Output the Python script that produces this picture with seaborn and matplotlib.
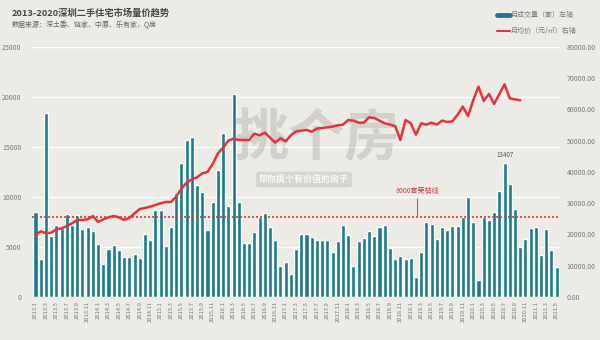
import numpy as np
import pandas as pd
import matplotlib
matplotlib.use("Agg")
import matplotlib.pyplot as plt
from matplotlib.lines import Line2D
import seaborn as sns

# Monthly Shenzhen second-hand housing data, 2013.1 - 2021.5
years = list(range(2013, 2022))
months = [f"{y}.{m}" for y in years for m in range(1, 13)][:101]

volume = [
    8500, 3830, 18370, 6100, 7200, 6870, 8300, 7200, 8230, 6770, 7030, 6570,
    5300, 3300, 4830, 5200, 4700, 4030, 4030, 4270, 3900, 6270, 5700, 8700,
    8700, 5100, 7030, 10430, 13370, 15700, 16030, 11200, 10530, 6700, 9530, 12700,
    16430, 9100, 20300, 9500, 5370, 5430, 6500, 8030, 8430, 7030, 5700, 3130,
    3500, 2270, 4800, 6300, 6300, 6030, 5730, 5700, 5700, 4470, 5600, 7200,
    6230, 3100, 5600, 5870, 6630, 6100, 6970, 7170, 4930, 3770, 4130, 3800,
    3870, 2000, 4530, 7530, 7330, 5770, 7030, 6670, 7130, 7130, 8030, 9970,
    7500, 1670, 8030, 7670, 8530, 10600, 13407, 11300, 8830, 5030, 5830, 6900,
    6970, 4170, 6770, 4700, 3000,
]

price = [
    19840, 21000, 20370, 20590, 21650, 21970, 22720, 23570, 24640, 24640, 24850, 25920,
    24000, 24850, 25490, 25920, 25490, 24640, 25280, 26770, 28160, 28480, 28900, 29440,
    29970, 30400, 30400, 32100, 34670, 36590, 37650, 38300, 39570, 40000, 42560, 45970,
    47790, 50030, 50670, 50240, 50240, 50240, 52270, 51730, 52590, 50990, 49390, 50780,
    49820, 51730, 53000, 53230, 53440, 52900, 53870, 54080, 54300, 54510, 54930, 55150,
    56640, 56430, 55790, 55790, 57490, 57280, 56430, 55580, 55150, 54720, 50240, 56640,
    55580, 51950, 55580, 55150, 55790, 55150, 56430, 56000, 56210, 58350, 60910, 57920,
    63040, 67300, 62720, 64960, 61760, 64960, 68050, 63570, 63250, 62930,
]

left_ticks = [0, 5000, 10000, 15000, 20000, 25000]
right_ticks = list(range(0, 80001, 10000))
threshold = 8000

bg = "#ECEBE5"
teal = "#1B7A8C"
red = "#E5333D"
grey_txt = "#7A7A7A"

sns.set_theme(style="white")
plt.rcParams["font.family"] = ["Noto Sans CJK SC", "DejaVu Sans"]

vol_df = pd.DataFrame({"month": months, "volume": volume})
price_df = pd.DataFrame({"idx": np.arange(len(price)), "price": price})

fig = plt.figure(figsize=(6, 3.4), dpi=100, facecolor=bg)
ax = fig.add_axes([0.054, 0.1265, 0.879, 0.7353])
ax.set_facecolor(bg)

sns.barplot(data=vol_df, x="month", y="volume", color=teal, saturation=1,
            width=0.78, ax=ax, zorder=2)
ax.set_ylim(0, 25000)
ax.set_xlim(-0.6, len(months) - 0.4)
ax.set_yticks(left_ticks)
ax.set_yticklabels([str(t) for t in left_ticks], fontsize=5, color=grey_txt)
ax.set_xticks(range(0, len(months), 2))
ax.set_xticklabels(months[::2], rotation=90, fontsize=4.2, color=grey_txt)
ax.tick_params(axis="both", length=0, pad=3)
ax.tick_params(axis="y", pad=8)
ax.grid(axis="y", color="white", linewidth=1, zorder=0)
ax.set_axisbelow(True)
ax.set_xlabel("")
ax.set_ylabel("")
for s in ax.spines.values():
    s.set_visible(False)

# 8000-unit boom/bust threshold
ax.axhline(threshold, color="#D23A3F", linestyle=(0, (1.2, 1.2)), linewidth=1.2, zorder=3)
ax.annotate("8000套荣枯线", xy=(73.3, threshold), xytext=(73.3, 10650),
            ha="center", va="center", fontsize=5, color="#C8403F",
            arrowprops=dict(arrowstyle="-", color="#C8403F", lw=0.7,
                            shrinkA=1, shrinkB=0), zorder=4)

# peak label
peak_i = volume.index(13407)
ax.text(peak_i, 13407 + 400, "13407", ha="center", va="bottom",
        fontsize=4.5, color="#555555", zorder=4)

# watermark
ax.text(0.54, 0.63, "挑个房", transform=ax.transAxes, ha="center", va="center",
        fontsize=40, fontweight="bold", style="italic", color="#A9A9A6",
        alpha=0.4, zorder=5)
ax.text(0.515, 0.47, "帮你挑个有价值的房子", transform=ax.transAxes,
        ha="center", va="center", fontsize=6.5, fontweight="bold", color="white",
        alpha=0.85, zorder=5,
        bbox=dict(boxstyle="round,pad=0.35", fc="#B5B5B2", ec="none", alpha=0.4))

# price on the right axis
ax2 = ax.twinx()
sns.lineplot(data=price_df, x="idx", y="price", color=red, linewidth=1.8, ax=ax2, zorder=6)
ax2.set_ylim(0, 80000)
ax2.set_xlim(ax.get_xlim())
ax2.set_yticks(right_ticks)
ax2.set_yticklabels([f"{t:.2f}" for t in right_ticks], fontsize=5, color=grey_txt)
ax2.tick_params(axis="y", length=0, pad=5)
ax2.set_ylabel("")
ax2.set_xlabel("")
ax2.grid(False)
for s in ax2.spines.values():
    s.set_visible(False)

fig.text(0.02, 0.963, "2013-2020深圳二手住宅市场量价趋势", fontsize=6.7,
         fontweight="bold", color="#444444", va="center")
fig.text(0.02, 0.927, "数据来源：深土委、链家、中原、乐有家，Q房", fontsize=5,
         color="#666666", va="center")

handles = [Line2D([0], [0], color=teal, linewidth=3.5),
           Line2D([0], [0], color=red, linewidth=1.5)]
fig.legend(handles, ["月成交量（套）左轴", "月均价（元/㎡）右轴"],
           loc="upper left", bbox_to_anchor=(0.818, 0.985), frameon=False,
           fontsize=5, handlelength=1.8, handletextpad=0.15, labelspacing=1.1,
           labelcolor=grey_txt)

fig.savefig("out.png", dpi=100, facecolor=bg)
